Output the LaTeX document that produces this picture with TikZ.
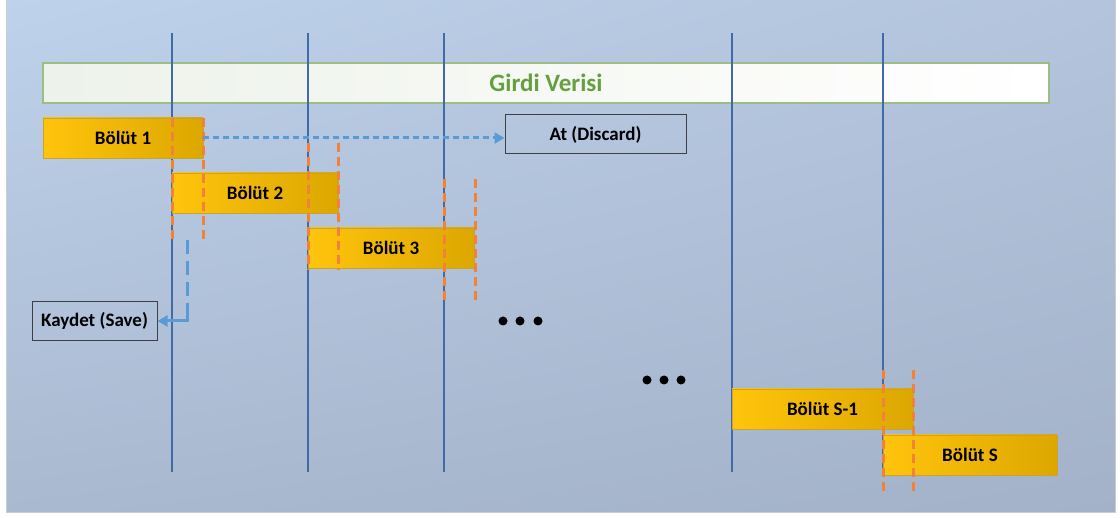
\documentclass[tikz,border=0pt]{standalone}
\usepackage{fontspec}
\setmainfont{Carlito}
\usetikzlibrary{arrows.meta,shadings}

\definecolor{bgUL}{HTML}{BED2EB}
\definecolor{bgUR}{HTML}{B3C4DC}
\definecolor{bgLL}{HTML}{A9B9D0}
\definecolor{bgLR}{HTML}{A3B2C9}
\definecolor{frame}{HTML}{C9CED6}
\definecolor{guide}{HTML}{3F6CA6}
\definecolor{segL}{HTML}{FFC40C}
\definecolor{segM}{HTML}{E4AD00}
\definecolor{segR}{HTML}{DCA700}
\definecolor{segEdge}{HTML}{C9A236}
\definecolor{inEdge}{HTML}{9CBD86}
\definecolor{inText}{HTML}{65A03F}
\definecolor{inFillL}{HTML}{EDF2EA}
\definecolor{inFillR}{HTML}{FFFFFF}
\definecolor{cut}{HTML}{F0823A}
\definecolor{flow}{HTML}{5B9BD5}
\definecolor{outEdge}{HTML}{3C3F45}

\begin{document}
\begin{tikzpicture}[x=1pt,y=-1pt,
  segbox/.style={draw=segEdge, line width=0.7pt, left color=segL, middle color=segM, right color=segR,
    minimum height=40pt, inner sep=0pt, text=black,
    font=\bfseries\fontsize{19}{22}\selectfont},
  outbox/.style={draw=outEdge, line width=1pt, minimum height=39pt, inner sep=0pt,
    text=black, font=\bfseries\fontsize{19}{22}\selectfont},
  guideline/.style={draw=guide, line width=1.8pt},
  cutline/.style={draw=cut, line width=3pt, dash pattern=on 9pt off 5pt},
  flowline/.style={draw=flow, line width=3pt, dash pattern=on 6pt off 4pt},
  flowtip/.style={-{Triangle[length=10pt,width=11pt]}},
  dot/.style={fill=black, circle, inner sep=0pt, minimum size=9pt}
]
\useasboundingbox (0,0) rectangle (1120,518);
\fill[white] (0,0) rectangle (1120,518);

% panel background
\shade[upper left=bgUL, upper right=bgUR, lower left=bgLL, lower right=bgLR]
  (6,0) rectangle (1115,513);
\draw[frame, line width=1pt] (6,-2) -- (6,513) -- (1115,513) -- (1115,-2);

% input data strip
\node[draw=inEdge, line width=1.2pt, left color=inFillL, right color=inFillR,
  minimum width=1006pt, minimum height=40pt, inner sep=0pt, text=inText,
  font=\bfseries\fontsize{25}{28}\selectfont] (input) at (546,83) {Girdi Verisi};

% frame boundaries
\foreach \gx/\gn in {172/g1, 308/g2, 444/g3, 732/g4, 883/g5} {
  \coordinate (\gn top) at (\gx,33);
  \coordinate (\gn bot) at (\gx,472);
  \draw[guideline] (\gn top) -- (\gn bot);
}

% segments
\node[segbox, minimum width=160pt] (s1) at (123,138) {Bölüt 1};
\node[segbox, minimum width=166pt] (s2) at (255,193) {Bölüt 2};
\node[segbox, minimum width=166pt] (s3) at (391,248) {Bölüt 3};
\node[segbox, minimum width=181pt] (sm) at (822.5,409) {Bölüt S-1};
\node[segbox, minimum width=174pt] (sn) at (970,455) {Bölüt S};

% outputs
\node[outbox, minimum width=181pt] (discard) at (595.5,134.5) {At (Discard)};
\node[outbox, minimum width=125pt] (save) at (94.5,321) {Kaydet (Save)};

% overlap cut marks
\foreach \ax/\bx/\ya/\yb in {172/203/118/243, 308/338/143/270, 444/475/179/303, 883/913/370/495} {
  \draw[cutline] (\ax,\ya) -- (\ax,\yb);
  \draw[cutline] (\bx,\ya) -- (\bx,\yb);
}

% discarded part
\draw[flowline, flowtip] (s1.east) -- (s1.east -| discard.west);

% saved part
\coordinate (keep) at (187,240);
\coordinate (bend) at (187,316);
\draw[flowline, dash pattern=on 14pt off 7pt] (keep) -- (bend);
\draw[draw=flow, line width=3pt, flowtip] (bend) |- (save.east);

% continuation dots
\foreach \dx/\dy/\dn in {503/321/d1, 520/321/d2, 538/321/d3, 647/380/d4, 664/380/d5, 681/380/d6}
  \node[dot] (\dn) at (\dx,\dy) {};
\end{tikzpicture}
\end{document}
